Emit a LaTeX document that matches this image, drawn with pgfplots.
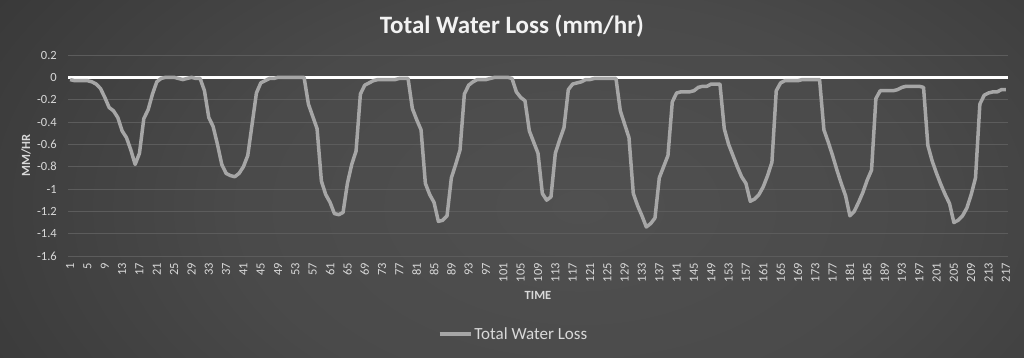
\documentclass[border=0pt]{standalone}
\usepackage{pgfplots}
\usepackage{pgfplotstable}
\pgfplotsset{compat=1.18}
\usepackage{fontspec}
\setmainfont{Carlito}
\definecolor{bgA}{HTML}{505050}
\definecolor{bgB}{HTML}{4A4A4A}
\definecolor{bgC}{HTML}{313131}
\definecolor{bgD}{HTML}{1F1F1F}
\definecolor{bgE}{HTML}{1A1A1A}
\definecolor{linec}{HTML}{A6A6A6}
\definecolor{gridc}{HTML}{5C5C5C}
\definecolor{tickc}{HTML}{D9D9D9}
\definecolor{titlec}{HTML}{F2F2F2}
\pgfdeclareradialshading{bgshade}{\pgfpoint{0bp}{0bp}}{color(0bp)=(bgA); color(12bp)=(bgB); color(30bp)=(bgC); color(42bp)=(bgD); color(50bp)=(bgE)}
\pgfplotstableread{
t v
1 -0.02
2 -0.03
3 -0.03
4 -0.03
5 -0.03
6 -0.04
7 -0.06
8 -0.10
9 -0.18
10 -0.27
11 -0.30
12 -0.36
13 -0.48
14 -0.54
15 -0.65
16 -0.78
17 -0.68
18 -0.37
19 -0.29
20 -0.15
21 -0.04
22 -0.01
23 0.00
24 0.00
25 0.00
26 -0.01
27 -0.02
28 -0.01
29 0.00
30 -0.01
31 -0.01
32 -0.12
33 -0.36
34 -0.44
35 -0.60
36 -0.78
37 -0.86
38 -0.88
39 -0.89
40 -0.86
41 -0.80
42 -0.70
43 -0.42
44 -0.14
45 -0.05
46 -0.03
47 -0.01
48 -0.01
49 0.00
50 0.00
51 0.00
52 0.00
53 0.00
54 0.00
55 0.00
56 -0.24
57 -0.35
58 -0.46
59 -0.93
60 -1.05
61 -1.12
62 -1.22
63 -1.23
64 -1.21
65 -0.95
66 -0.78
67 -0.66
68 -0.15
69 -0.07
70 -0.05
71 -0.03
72 -0.02
73 -0.02
74 -0.02
75 -0.02
76 -0.02
77 -0.01
78 -0.01
79 -0.01
80 -0.28
81 -0.38
82 -0.47
83 -0.95
84 -1.05
85 -1.12
86 -1.29
87 -1.28
88 -1.24
89 -0.90
90 -0.78
91 -0.65
92 -0.15
93 -0.07
94 -0.04
95 -0.02
96 -0.02
97 -0.02
98 -0.01
99 0.00
100 0.00
101 0.00
102 0.00
103 -0.01
104 -0.13
105 -0.18
106 -0.21
107 -0.48
108 -0.58
109 -0.68
110 -1.04
111 -1.10
112 -1.07
113 -0.68
114 -0.56
115 -0.45
116 -0.11
117 -0.06
118 -0.05
119 -0.04
120 -0.02
121 -0.02
122 -0.01
123 -0.01
124 -0.01
125 -0.01
126 -0.01
127 -0.01
128 -0.30
129 -0.42
130 -0.54
131 -1.04
132 -1.15
133 -1.24
134 -1.34
135 -1.31
136 -1.26
137 -0.90
138 -0.80
139 -0.70
140 -0.22
141 -0.14
142 -0.13
143 -0.13
144 -0.13
145 -0.12
146 -0.09
147 -0.08
148 -0.08
149 -0.06
150 -0.06
151 -0.06
152 -0.46
153 -0.60
154 -0.70
155 -0.80
156 -0.89
157 -0.95
158 -1.11
159 -1.09
160 -1.05
161 -0.98
162 -0.88
163 -0.76
164 -0.12
165 -0.05
166 -0.03
167 -0.03
168 -0.03
169 -0.03
170 -0.02
171 -0.02
172 -0.02
173 -0.02
174 -0.02
175 -0.47
176 -0.58
177 -0.70
178 -0.83
179 -0.95
180 -1.06
181 -1.24
182 -1.20
183 -1.12
184 -1.03
185 -0.92
186 -0.83
187 -0.19
188 -0.12
189 -0.12
190 -0.12
191 -0.12
192 -0.11
193 -0.09
194 -0.08
195 -0.08
196 -0.08
197 -0.08
198 -0.09
199 -0.61
200 -0.75
201 -0.86
202 -0.96
203 -1.05
204 -1.13
205 -1.30
206 -1.28
207 -1.24
208 -1.17
209 -1.05
210 -0.90
211 -0.24
212 -0.16
213 -0.14
214 -0.13
215 -0.13
216 -0.11
217 -0.11
}\loss
\begin{document}
\begin{tikzpicture}
\useasboundingbox (0pt,0pt) rectangle (1024pt,357pt);
\begin{scope}
\clip (0pt,0pt) rectangle (1024pt,357pt);
\shade[shading=bgshade] (-120pt,-270pt) rectangle (1280pt,570pt);
\end{scope}
\begin{axis}[
  at={(68pt,101pt)}, anchor=south west,
  scale only axis, width=940pt, height=201pt,
  xmin=0.5, xmax=217.5, ymin=-1.6, ymax=0.2,
  xtick={1,5,...,217},
  ytick={-1.6,-1.4,-1.2,-1,-0.8,-0.6,-0.4,-0.2,0,0.2},
  yticklabels={-1.6,-1.4,-1.2,-1,-0.8,-0.6,-0.4,-0.2,0,0.2},
  /pgf/number format/assume math mode=true,
  axis line style={draw=none},
  major tick length=0pt,
  ymajorgrids, xmajorgrids=false,
  grid style={color=gridc, line width=1pt},
  tick label style={text=tickc, font=\fontsize{12.5}{14}\selectfont},
  yticklabel style={anchor=east, inner sep=0pt, xshift=-11pt},
  xticklabel style={rotate=90, anchor=east, inner sep=0pt, xshift=-7pt},
  title={Total Water Loss (mm/hr)},
  title style={at={(0.4723,1.075)}, anchor=base, text=titlec, font=\bfseries\fontsize{25}{30}\selectfont},
  xlabel={TIME},
  xlabel style={at={(0.5,-0.194)}, anchor=center, text=tickc, font=\bfseries\fontsize{12.5}{14}\selectfont},
  ylabel={MM/HR},
  ylabel style={at={(-0.0447,0.5)}, anchor=center, text=tickc, font=\bfseries\fontsize{12.5}{14}\selectfont},
  legend style={at={(0.474,-0.388)}, anchor=center, draw=none, fill=none, text=tickc, font=\fontsize{17}{20}\selectfont},
  legend image code/.code={\draw[#1] (0pt,0pt) -- (31pt,0pt);},
]
\addplot[color=white, line width=2.7pt, forget plot] coordinates {(0.5,0) (217.5,0)};
\addplot[color=linec, line width=3.5pt, line join=round] table[x=t,y=v]{\loss};
\addlegendentry{Total Water Loss}
\end{axis}
\end{tikzpicture}
\end{document}
